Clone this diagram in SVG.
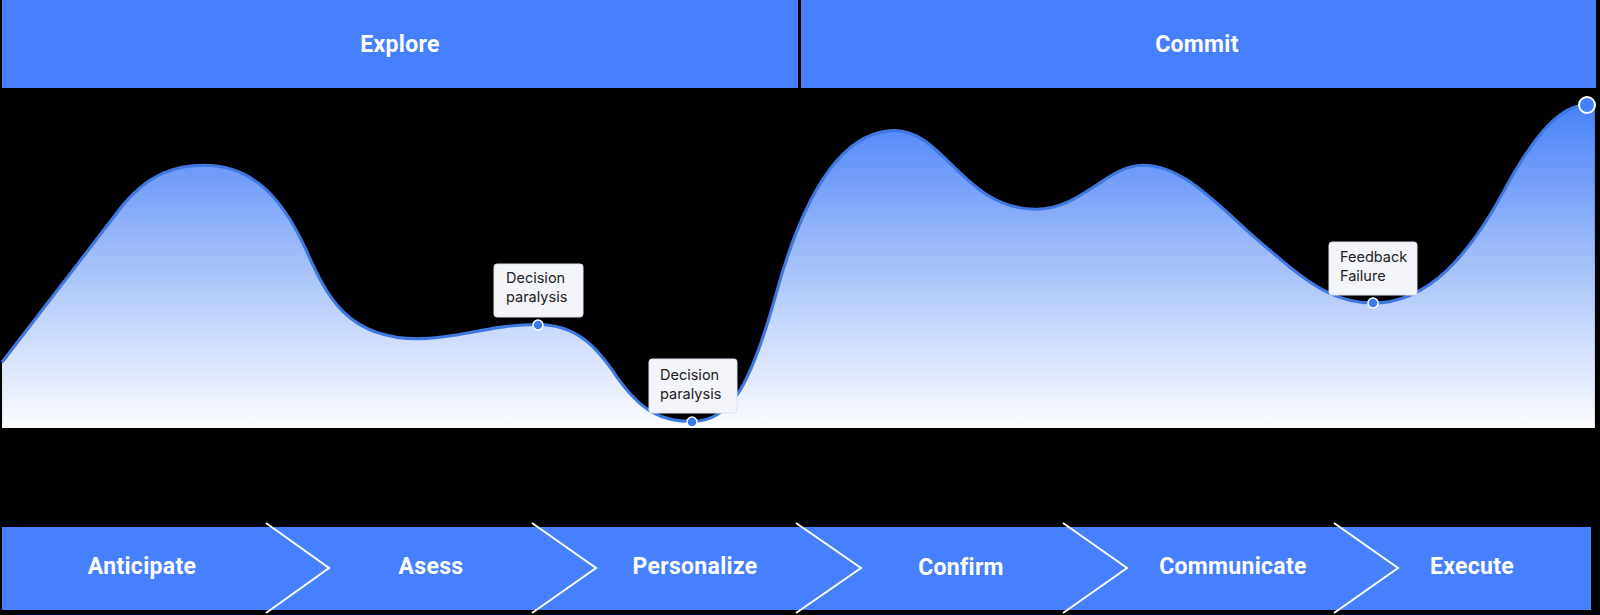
<svg xmlns="http://www.w3.org/2000/svg" width="1600" height="615" viewBox="0 0 1600 615">
<defs>
<linearGradient id="area" gradientUnits="userSpaceOnUse" x1="0" y1="100" x2="0" y2="428">
<stop offset="0" stop-color="#4680F8"/>
<stop offset="0.45" stop-color="#9ebcfa"/>
<stop offset="0.78" stop-color="#dbe6fd"/>
<stop offset="1" stop-color="#ffffff"/>
</linearGradient>
<style>
.bar{fill:#4680FF}
.head{font-family:Roboto,"Liberation Sans",sans-serif;font-weight:700;font-size:23px;fill:#ffffff;text-anchor:middle;letter-spacing:0.3px}
.chev{fill:none;stroke:#ffffff;stroke-width:2}
.box{fill:#F3F5FB;stroke:#dfe3ee;stroke-width:1}
.lbl{font-family:Inter,"Noto Sans",sans-serif;font-size:14.5px;fill:#222222}
.dot{fill:#3B7AF2;stroke:#ffffff;stroke-width:1.5}
</style>
</defs>
<rect width="1600" height="615" fill="#000000"/>
<g id="phase-explore">
<rect class="bar" x="2" y="0" width="796" height="88"/>
<text class="head" x="400" y="52">Explore</text>
</g>
<g id="phase-commit">
<rect class="bar" x="801" y="0" width="795" height="88"/>
<text class="head" x="1197" y="52">Commit</text>
</g>
<g id="curve">
<g transform="scale(1.0204)">
<path fill="url(#area)" d="M2,355 L115,208 C145,168 175,162 200,162 C245,162 275,190 300,245 C320,290 340,332 410,332 C450,332 480,318 527,318 C565,318 585,340 605,370 C630,405 650,413 678,413 C715,413 735,380 760,290 C790,180 830,128 877,128 C925,128 945,205 1015,205 C1060,205 1085,162 1120,162 C1165,162 1200,210 1250,250 C1290,285 1315,297 1345,297 C1400,297 1440,250 1475,185 C1505,130 1530,103 1555,103 L1563,101 L1563,419.5 L2,419.5 Z"/>
<path fill="none" stroke="#3F78E0" stroke-width="3" d="M2,355 L115,208 C145,168 175,162 200,162 C245,162 275,190 300,245 C320,290 340,332 410,332 C450,332 480,318 527,318 C565,318 585,340 605,370 C630,405 650,413 678,413 C715,413 735,380 760,290 C790,180 830,128 877,128 C925,128 945,205 1015,205 C1060,205 1085,162 1120,162 C1165,162 1200,210 1250,250 C1290,285 1315,297 1345,297 C1400,297 1440,250 1475,185 C1505,130 1530,103 1555,103"/>
</g>
<circle cx="1587" cy="105" r="8" fill="#4680F8" stroke="#ffffff" stroke-width="2"/>
</g>
<g id="note-decision-1">
<rect class="box" x="494" y="264" width="89" height="53" rx="3"/>
<text class="lbl" x="506" y="283">Decision</text>
<text class="lbl" x="506" y="302">paralysis</text>
<circle class="dot" cx="538" cy="325" r="5"/>
</g>
<g id="note-decision-2">
<rect class="box" x="649" y="359" width="88" height="54" rx="3"/>
<text class="lbl" x="660" y="380">Decision</text>
<text class="lbl" x="660" y="399">paralysis</text>
<circle class="dot" cx="692" cy="422" r="5"/>
</g>
<g id="note-feedback">
<rect class="box" x="1329" y="242" width="88" height="53" rx="3"/>
<text class="lbl" x="1340" y="262">Feedback</text>
<text class="lbl" x="1340" y="281">Failure</text>
<circle class="dot" cx="1373" cy="303" r="5"/>
</g>
<g id="stages">
<rect class="bar" x="2" y="527" width="1589" height="83"/>
</g>
<g id="connectors">
<polyline class="chev" points="266,523 329,568 266,613"/>
<polyline class="chev" points="532,523 596,568 532,613"/>
<polyline class="chev" points="796,523 861,568 796,613"/>
<polyline class="chev" points="1063,523 1127,568 1063,613"/>
<polyline class="chev" points="1334,523 1398,568 1334,613"/>
</g>
<g id="stage-anticipate"><text class="head" x="142" y="574">Anticipate</text></g>
<g id="stage-asess"><text class="head" x="431" y="574">Asess</text></g>
<g id="stage-personalize"><text class="head" x="695" y="574">Personalize</text></g>
<g id="stage-confirm"><text class="head" x="961" y="575">Confirm</text></g>
<g id="stage-communicate"><text class="head" x="1233" y="574">Communicate</text></g>
<g id="stage-execute"><text class="head" x="1472" y="574">Execute</text></g>
</svg>
